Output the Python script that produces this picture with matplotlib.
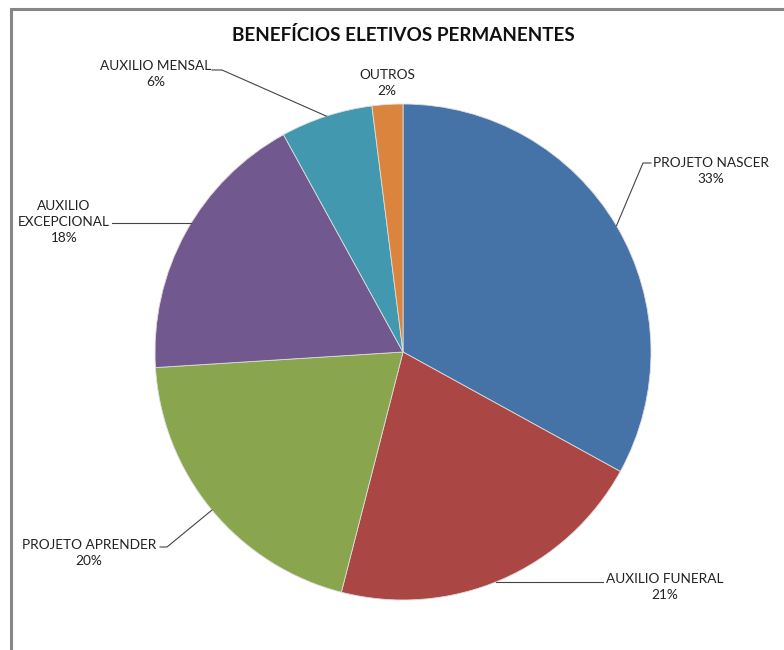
import numpy as np
import matplotlib
matplotlib.use('Agg')
import matplotlib.pyplot as plt
from matplotlib.patches import Rectangle

# data
labels = ['PROJETO NASCER', 'AUXILIO FUNERAL', 'PROJETO APRENDER',
          'AUXILIO\nEXCEPCIONAL', 'AUXILIO MENSAL', 'OUTROS']
values = [33, 21, 20, 18, 6, 2]
colors = ['#4572A7', '#AA4643', '#89A54E', '#71588F', '#4198AF', '#DB843D']

# label text centres (pixels, y from top)
label_pos = [(711, 171), (665, 587), (89, 553), (64, 222), (156, 74), (387, 83)]
# leader lines: (start x, y, elbow x, horizontal?) ; None = no leader
leaders = [(651, 163, 643, False), (603, 582, 603, True), (160, 547, 167, False),
           (112, 223, 112, True), (212, 70, 222, False), None]

W, H = 784, 650
plt.rcParams['font.family'] = ['Lato', 'DejaVu Sans']

fig = plt.figure(figsize=(W / 100, H / 100), dpi=100)
ax = fig.add_axes([0, 0, 1, 1])

# chart frame
ax.add_patch(Rectangle((11.5, -20), W + 20, H - 8 + 20 - 0.5, fill=False,
                       edgecolor='#868686', linewidth=2.2))

cx, cy, r = 403, H - 352, 248
wedges, _ = ax.pie(values, colors=colors, startangle=90, counterclock=False,
                   center=(cx, cy), radius=r, frame=True,
                   wedgeprops=dict(linewidth=0.6, edgecolor='#dddddd'))
ax.set_xlim(0, W)
ax.set_ylim(0, H)
ax.set_aspect('equal')
ax.axis('off')

for w, lab, v, pos, ld in zip(wedges, labels, values, label_pos, leaders):
    ax.text(pos[0], H - pos[1], f'{lab}\n{v}%', ha='center', va='center',
            fontsize=9.8, color='#222222', linespacing=1.45)
    if ld is None:
        continue
    x0, y0, xe, horiz = ld
    y0 = H - y0
    if horiz:
        # run straight across to the arc
        dx = np.sqrt(r ** 2 - (y0 - cy) ** 2)
        ex = cx + dx if x0 > cx else cx - dx
        ey = y0
    else:
        ang = np.deg2rad((w.theta1 + w.theta2) / 2)
        ex, ey = cx + r * np.cos(ang), cy + r * np.sin(ang)
    ax.plot([x0, xe, ex], [y0, y0, ey], color='#444444', linewidth=0.8)

ax.text(403.5, H - 35, 'BENEFÍCIOS ELETIVOS PERMANENTES', ha='center', va='center',
        fontsize=13.6, fontweight='bold', color='#111111')

fig.savefig('out.png', dpi=100)
